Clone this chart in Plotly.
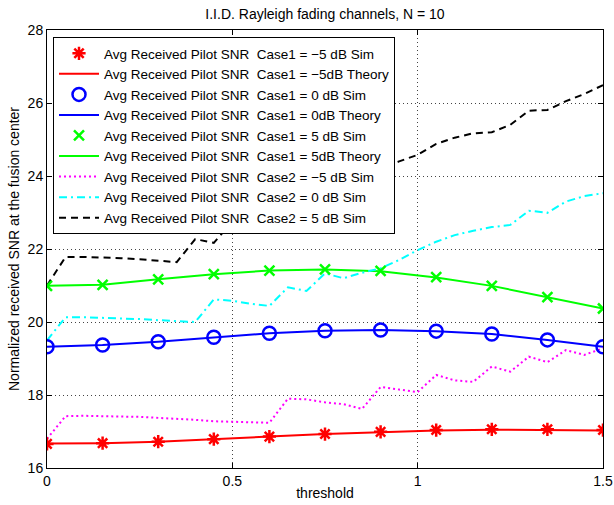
import plotly.graph_objects as go

x_marks = [0, 0.15, 0.3, 0.45, 0.6, 0.75, 0.9, 1.05, 1.2, 1.35, 1.5]
x_fine = [round(i * 0.05, 2) for i in range(31)]

red_theory = [16.67, 16.68, 16.72, 16.78, 16.86, 16.93, 16.99, 17.03, 17.05, 17.05, 17.03]
red_sim = [16.66, 16.68, 16.72, 16.79, 16.86, 16.93, 16.99, 17.04, 17.06, 17.06, 17.04]
blue_theory = [19.32, 19.37, 19.46, 19.58, 19.69, 19.76, 19.78, 19.75, 19.67, 19.51, 19.32]
blue_sim = [19.32, 19.37, 19.46, 19.58, 19.69, 19.76, 19.78, 19.75, 19.67, 19.51, 19.32]
green_theory = [20.99, 21.02, 21.17, 21.31, 21.41, 21.44, 21.39, 21.22, 20.99, 20.69, 20.37]
green_sim = [20.99, 21.02, 21.17, 21.31, 21.41, 21.44, 21.40, 21.23, 20.99, 20.68, 20.37]

magenta_case2 = [16.8, 17.42, 17.43, 17.43, 17.41, 17.4, 17.38, 17.35, 17.32, 17.28, 17.26,
                 17.25, 17.24, 17.9, 17.88, 17.8, 17.75, 17.62, 18.22, 18.15, 18.08, 18.55,
                 18.4, 18.36, 18.78, 18.64, 19.05, 18.9, 19.23, 19.1, 19.28]
cyan_case2 = [19.5, 20.13, 20.13, 20.12, 20.1, 20.08, 20.05, 20.02, 20.0, 20.62, 20.58,
              20.5, 20.44, 20.95, 20.85, 21.33, 21.2, 21.35, 21.47, 21.7, 21.97, 22.2,
              22.38, 22.5, 22.6, 22.66, 23.05, 22.99, 23.3, 23.45, 23.53]
black_case2 = [21.0, 21.78, 21.78, 21.77, 21.75, 21.72, 21.68, 21.64, 22.27, 22.17, 22.75,
               22.6, 23.04, 22.88, 23.2, 23.45, 23.7, 23.95, 24.2, 24.4, 24.58, 24.88,
               25.05, 25.17, 25.2, 25.4, 25.79, 25.81, 26.05, 26.25, 26.49]

x_ticks = [0, 0.5, 1, 1.5]
x_ticktext = ["0", "0.5", "1", "1.5"]
y_ticks = [16, 18, 20, 22, 24, 26, 28]

labels = [
    "Avg Received Pilot SNR\u00a0\u00a0Case1 = \u22125 dB Sim",
    "Avg Received Pilot SNR\u00a0\u00a0Case1 = \u22125dB Theory",
    "Avg Received Pilot SNR\u00a0\u00a0Case1 = 0 dB Sim",
    "Avg Received Pilot SNR\u00a0\u00a0Case1 = 0dB Theory",
    "Avg Received Pilot SNR\u00a0\u00a0Case1 = 5 dB Sim",
    "Avg Received Pilot SNR\u00a0\u00a0Case1 = 5dB Theory",
    "Avg Received Pilot SNR\u00a0\u00a0Case2 = \u22125 dB Sim",
    "Avg Received Pilot SNR\u00a0\u00a0Case2 = 0 dB Sim",
    "Avg Received Pilot SNR\u00a0\u00a0Case2 = 5 dB Sim",
]

FONT = "Liberation Sans, Arial, Helvetica, sans-serif"

fig = go.Figure()

# lines first (drawn below markers); legendrank controls legend order
fig.add_trace(go.Scatter(x=x_marks, y=red_theory, mode="lines", name=labels[1], legendrank=2,
                         line=dict(color="#ff0000", width=2)))
fig.add_trace(go.Scatter(x=x_marks, y=blue_theory, mode="lines", name=labels[3], legendrank=4,
                         line=dict(color="#0000ff", width=2)))
fig.add_trace(go.Scatter(x=x_marks, y=green_theory, mode="lines", name=labels[5], legendrank=6,
                         line=dict(color="#00ff00", width=2)))
fig.add_trace(go.Scatter(x=x_fine, y=magenta_case2, mode="lines", name=labels[6], legendrank=7,
                         line=dict(color="#ff00ff", width=2, dash="2px,3px")))
fig.add_trace(go.Scatter(x=x_fine, y=cyan_case2, mode="lines", name=labels[7], legendrank=8,
                         line=dict(color="#00ffff", width=2, dash="8px,4px,2px,4px")))
fig.add_trace(go.Scatter(x=x_fine, y=black_case2, mode="lines", name=labels[8], legendrank=9,
                         line=dict(color="#000000", width=2, dash="7px,5px")))

fig.add_trace(go.Scatter(x=x_marks, y=red_sim, mode="markers", name=labels[0], legendrank=1,
                         marker=dict(symbol="asterisk-open", size=11, color="#ff0000",
                                     line=dict(color="#ff0000", width=2.5))))
fig.add_trace(go.Scatter(x=x_marks, y=blue_sim, mode="markers", name=labels[2], legendrank=3,
                         marker=dict(symbol="circle-open", size=13, color="#0000ff",
                                     line=dict(color="#0000ff", width=2.5))))
fig.add_trace(go.Scatter(x=x_marks, y=green_sim, mode="markers", name=labels[4], legendrank=5,
                         marker=dict(symbol="x-thin-open", size=10, color="#00ff00",
                                     line=dict(color="#00ff00", width=2.5))))

axis_common = dict(
    showline=True, linecolor="black", linewidth=1, mirror="ticks",
    ticks="inside", ticklen=5, tickcolor="black",
    showgrid=True, gridcolor="#444444", griddash="1px,3px", gridwidth=1,
    zeroline=False, automargin=False,
    tickfont=dict(family=FONT, size=14, color="black"),
)

fig.update_layout(
    width=614, height=505,
    margin=dict(l=47, r=11, t=30, b=37),
    paper_bgcolor="white", plot_bgcolor="white",
    font=dict(family=FONT, size=14, color="black"),
    title=dict(text="I.I.D. Rayleigh fading channels, N = 10", x=0.5, xanchor="center",
               xref="paper", y=0.972, yanchor="middle",
               font=dict(size=14, color="black")),
    xaxis=dict(range=[0, 1.5], tickvals=x_ticks, ticktext=x_ticktext,
               title=dict(text="threshold", standoff=0, font=dict(size=14)), **axis_common),
    yaxis=dict(range=[16, 28], tickvals=y_ticks,
               title=dict(text="Normalized received SNR at the fusion center", standoff=4,
                          font=dict(size=14)), **axis_common),
    legend=dict(x=0.0108, y=0.984, xanchor="left", yanchor="top",
                bgcolor="white", bordercolor="black", borderwidth=1,
                font=dict(size=13.5, color="black"), tracegroupgap=0,
                itemwidth=40, traceorder="normal"),
    showlegend=True,
)

fig.write_html("out.html")
